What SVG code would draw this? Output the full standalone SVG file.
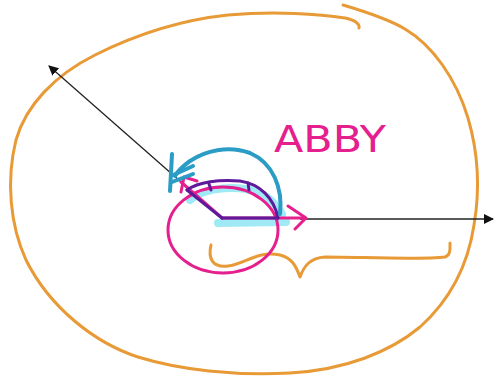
<svg xmlns="http://www.w3.org/2000/svg" width="494" height="381" viewBox="0 0 494 381">
<defs>
<style>
.orange{fill:none;stroke:#e89a36;stroke-width:3;stroke-linecap:round;stroke-linejoin:round}
.pink{fill:none;stroke:#e5208e;stroke-width:3;stroke-linecap:round;stroke-linejoin:round}
.purple{fill:none;stroke:#5e1a9a;stroke-width:3;stroke-linecap:round;stroke-linejoin:round}
.teal{fill:none;stroke:#2a9cc6;stroke-width:4;stroke-linecap:round;stroke-linejoin:round}
.cyan{fill:none;stroke:#8fe6f4;stroke-width:8;stroke-linecap:round;stroke-linejoin:round;opacity:0.85}
.black{fill:none;stroke:#222;stroke-width:1.3}
</style>
<marker id="ah" viewBox="0 0 10 10" refX="9" refY="5" markerWidth="10" markerHeight="10" markerUnits="userSpaceOnUse" orient="auto">
<path d="M0,0 L10,5 L0,10 Z" fill="#111"/>
</marker>
</defs>
<rect width="494" height="381" fill="#fff"/>
<g id="outline">
<path class="orange" d="M343,5 C370,13 390,20 405,29 C432,45 456,78 468,118 C478,152 480,190 474,225 C468,265 450,300 420,327 C390,352 345,370 290,373 C235,376 180,370 138,357 C95,343 50,308 26,260 C10,225 6,180 16,140 C26,105 55,75 95,55 C135,35 180,20 228,15 C275,11 320,14 345,18 C355,20 360,24 359,28"/>
</g>
<g id="connectors">
<line class="black" x1="222" y1="218" x2="49" y2="66" marker-end="url(#ah)"/>
<line class="black" x1="300" y1="219" x2="493" y2="219" marker-end="url(#ah)"/>
</g>
<g id="brace">
<path class="orange" d="M211,245 C208,258 212,268 228,266 C245,264 258,250 280,255 C292,258 296,266 300,277 C304,266 310,258 325,257 C360,257 420,260 445,257 C451,255 450,248 450,243"/>
</g>
<g id="highlight">
<path class="cyan" d="M190,200 C205,187 240,184 262,194 C272,200 278,207 282,214"/>
<path class="cyan" d="M218,223 L286,222"/>
</g>
<g id="circle">
<ellipse class="pink" cx="223" cy="230" rx="55" ry="43"/>
</g>
<g id="pink-arrows">
<path class="pink" d="M222,218 L303,218"/>
<path class="pink" d="M288,206 L306,218 L295,229"/>
<path class="pink" d="M222,218 L181,182"/>
<path class="pink" d="M181,192 L184,177 L197,181"/>
</g>
<g id="angle">
<path class="purple" d="M222,218 L278,218"/>
<path class="purple" d="M222,218 L187,190"/>
<path class="purple" d="M187,190 C198,182 220,179 240,181 C260,184 274,198 278,218"/>
<path class="purple" d="M209,184 L211,190 M248,183 L249,190"/>
</g>
<g id="rotation">
<path class="teal" d="M280,214 C283,188 273,163 250,153 C228,145 205,151 190,161 C183,166 178,171 175,176"/>
<path class="teal" d="M172,154 L170,191 M171,176 L193,166 M172,182 L193,174"/>
</g>
<g id="label">
<text x="274" y="152" font-family="'Comic Sans MS','DejaVu Sans',sans-serif" font-size="38" fill="#e5208e" textLength="112" lengthAdjust="spacingAndGlyphs">ABBY</text>
</g>
</svg>
